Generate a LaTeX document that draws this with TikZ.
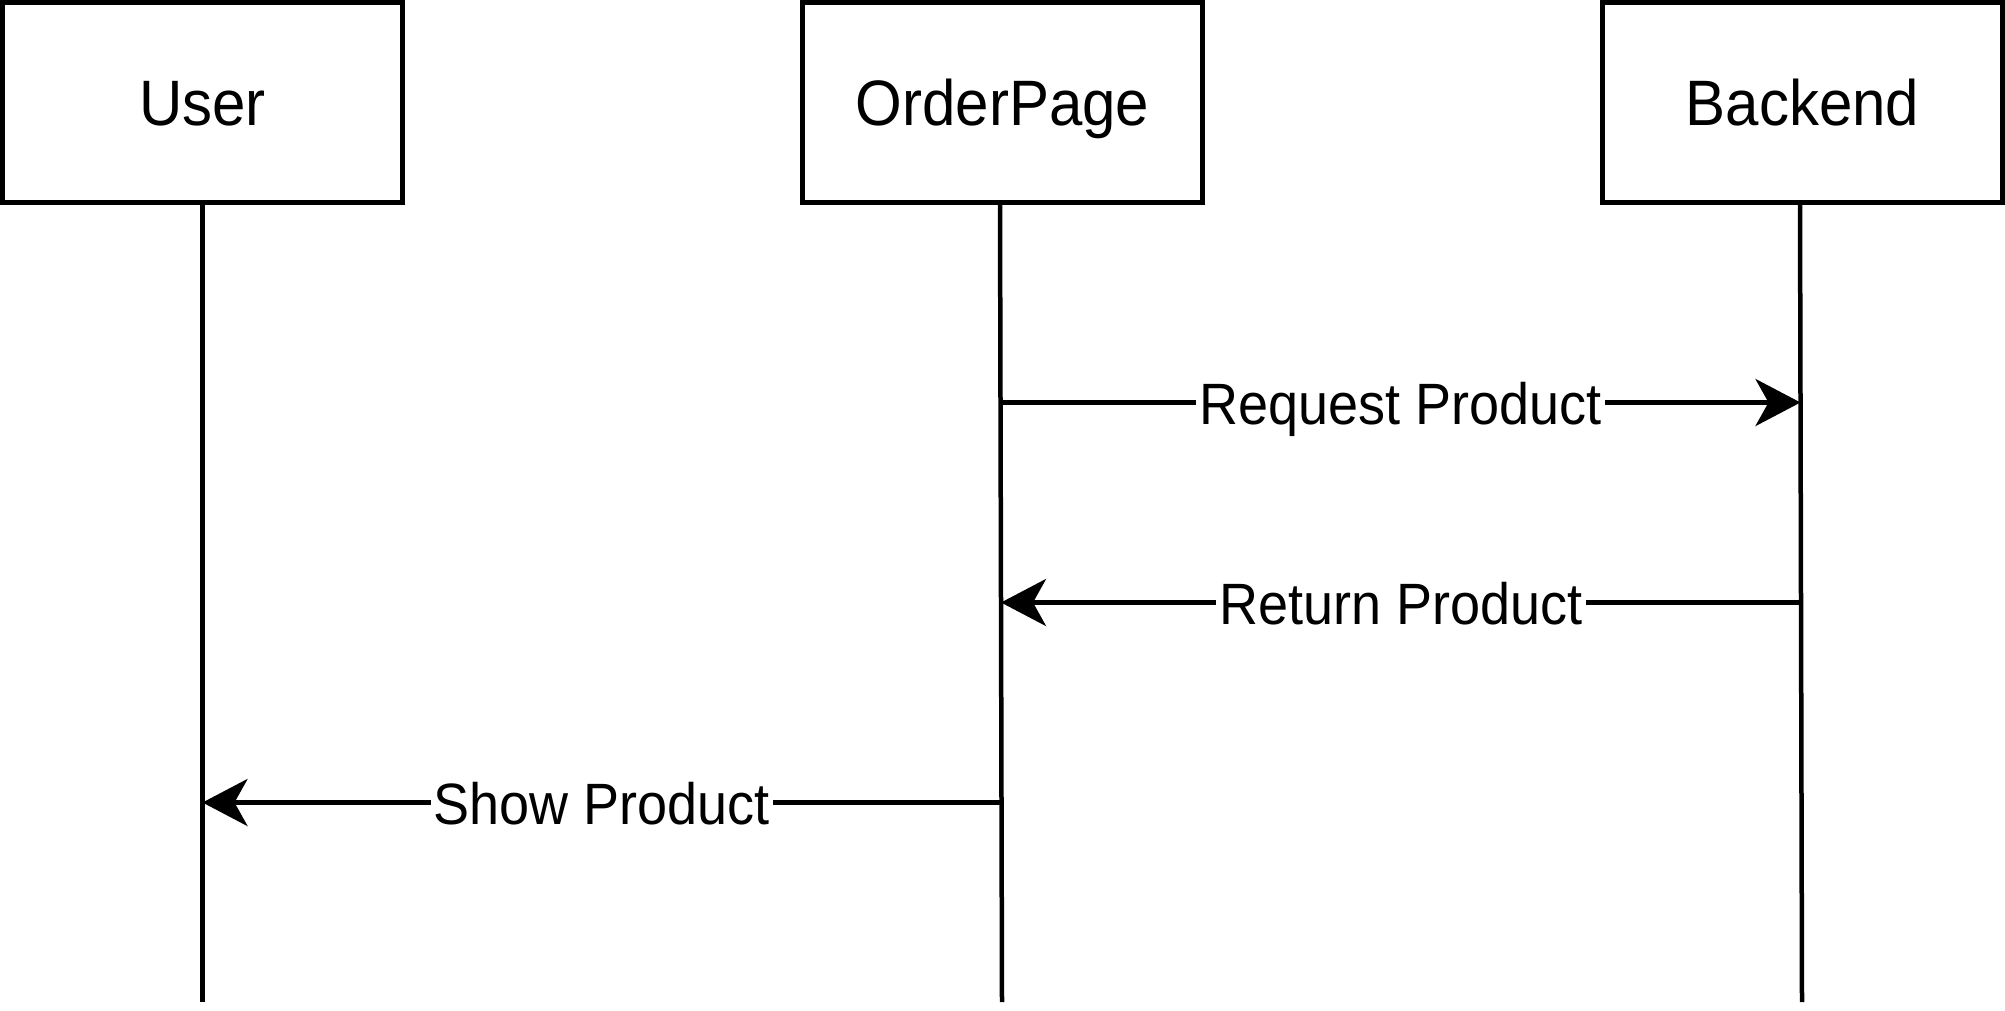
\documentclass[tikz,border=0pt]{standalone}
\usepackage{fontspec}
\setmainfont{Liberation Sans}
\usetikzlibrary{arrows.meta}
\newcommand{\tallertext}[2]{\scalebox{1}[#1]{#2}}
\begin{document}
\begin{tikzpicture}[x=1pt,y=-1pt,
  actor/.style={draw, line width=4.5pt, minimum width=400pt, minimum height=200pt, inner sep=0pt,
    font=\fontsize{60}{72}\selectfont, text height=46pt, text depth=0pt},
  lifeline/.style={line width=4.5pt},
  msg/.style={line width=4.5pt, -{Stealth[length=45pt,width=47pt,inset=13pt]}},
  lbl/.style={fill=white, inner xsep=3pt, inner ysep=0pt, font=\fontsize{54}{64}\selectfont,
    text height=50pt, text depth=6pt}]
\useasboundingbox (0,0) rectangle (2005,1010);
% actors
\node[actor] (user) at (202.5,102.5) {\tallertext{1.07}{User}};
\node[actor] (order) at (1002.5,102.5) {\tallertext{1.07}{OrderPage}};
\node[actor] (backend) at (1802.5,102.5) {\tallertext{1.07}{Backend}};
% lifeline ends
\coordinate (userTop) at (202.5,202.5);
\coordinate (userEnd) at (202.5,1002);
\coordinate (orderTop) at (1000,202.5);
\coordinate (orderEnd) at (1002,1002);
\coordinate (backTop) at (1800,202.5);
\coordinate (backEnd) at (1802,1002);
\draw[lifeline] (userTop) -- (userEnd);
\draw[lifeline] (orderTop) -- (orderEnd);
\draw[lifeline] (backTop) -- (backEnd);
% message anchors on lifelines
\coordinate (reqA) at (1000.5,402.5);
\coordinate (reqB) at (1800.5,402.5);
\coordinate (retA) at (1801,602.5);
\coordinate (retB) at (1001,602.5);
\coordinate (showA) at (1001.5,802.5);
\coordinate (showB) at (202.5,802.5);
% messages
\draw[msg] (reqA) -- node[lbl] (reqL) {\tallertext{1.08}{Request Product}} (reqB);
\draw[msg] (retA) -- node[lbl] (retL) {\tallertext{1.08}{Return Product}} (retB);
\draw[msg] (showA) -- node[lbl] (showL) {\tallertext{1.08}{Show Product}} (showB);
\end{tikzpicture}
\end{document}
